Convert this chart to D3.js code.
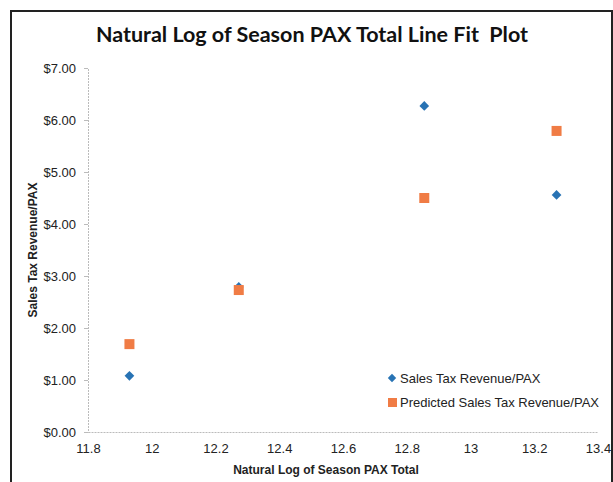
<!DOCTYPE html>
<html lang="en">
  <head>
    <meta charset="UTF-8" />
    <script src="https://cdnjs.cloudflare.com/ajax/libs/d3/7.8.5/d3.min.js"></script>
    <title>Line Fit Plot</title>
    <style>
      body { margin: 0; background: #fff; }
      text { font-family: "Liberation Sans", Arial, sans-serif; fill: #222; }
      .title { font-family: Lato, "Open Sans", sans-serif; font-weight: bold; font-size: 21.5px; fill: #111; white-space: pre; }
      .axis-label { font-weight: bold; font-size: 12px; }
      .tick text { font-size: 13px; fill: #222; }
      .tick line, .domain { stroke: #bbb; }
    </style>
  </head>
  <body>
    <script>
      const lnPax = [11.93, 12.273, 12.855, 13.27];
      const actual = [1.08, 2.79, 6.27, 4.56];
      const predicted = [1.69, 2.73, 4.5, 5.79];
      const xTicks = [11.8, 12, 12.2, 12.4, 12.6, 12.8, 13, 13.2, 13.4];
      const yTicks = [0, 1, 2, 3, 4, 5, 6, 7];
      const seriesNames = ["Sales Tax Revenue/PAX", "Predicted Sales Tax Revenue/PAX"];
      const colors = ["#2873b4", "#f07c45"];

      const width = 613, height = 482;
      const svg = d3.select("body").append("svg")
        .attr("width", width)
        .attr("height", height);

      // chart frame
      svg.append("path")
        .attr("d", `M 11,${height} V 11 H ${width - 1} V ${height}`)
        .attr("fill", "none")
        .attr("stroke", "#222")
        .attr("stroke-width", 2);

      const x = d3.scaleLinear().domain([11.8, 13.4]).range([88, 598]);
      const y = d3.scaleLinear().domain([0, 7]).range([432, 68]);

      svg.append("text")
        .attr("class", "title")
        .attr("x", 312)
        .attr("y", 42)
        .attr("text-anchor", "middle")
        .text("Natural Log of Season PAX Total Line Fit  Plot");

      const xAxis = svg.append("g")
        .attr("transform", "translate(0,432)")
        .call(d3.axisBottom(x).tickValues(xTicks).tickSize(0).tickPadding(12)
          .tickFormat(d3.format("")));
      xAxis.select(".domain").attr("stroke-dasharray", "2,1");

      const yAxis = svg.append("g")
        .attr("transform", "translate(88,0)")
        .call(d3.axisLeft(y).tickValues(yTicks).tickSize(4).tickPadding(8)
          .tickFormat(d => "$" + d3.format(".2f")(d)));
      yAxis.select(".domain").attr("stroke-dasharray", "2,1");

      svg.append("text")
        .attr("class", "axis-label")
        .attr("x", 326)
        .attr("y", 474)
        .attr("text-anchor", "middle")
        .text("Natural Log of Season PAX Total");

      svg.append("text")
        .attr("class", "axis-label")
        .attr("transform", "translate(37,250) rotate(-90)")
        .attr("text-anchor", "middle")
        .text("Sales Tax Revenue/PAX");

      const diamond = d3.symbol().type(d3.symbolDiamond2).size(60);

      svg.append("g").selectAll("path")
        .data(lnPax)
        .join("path")
        .attr("d", diamond)
        .attr("transform", (d, i) => `translate(${x(d)},${y(actual[i])})`)
        .attr("fill", colors[0]);

      svg.append("g").selectAll("rect")
        .data(lnPax)
        .join("rect")
        .attr("x", d => x(d) - 5)
        .attr("y", (d, i) => y(predicted[i]) - 5)
        .attr("width", 10)
        .attr("height", 10)
        .attr("fill", colors[1]);

      // legend
      const legend = svg.append("g").attr("transform", "translate(392,378)");
      legend.append("path")
        .attr("d", d3.symbol().type(d3.symbolDiamond2).size(45))
        .attr("fill", colors[0]);
      legend.append("rect")
        .attr("x", -4).attr("y", 20).attr("width", 9).attr("height", 9)
        .attr("fill", colors[1]);
      legend.selectAll("text")
        .data(seriesNames)
        .join("text")
        .attr("x", 8)
        .attr("y", (d, i) => i * 24 + 4.5)
        .attr("font-size", 13)
        .text(d => d);
    </script>
  </body>
</html>
